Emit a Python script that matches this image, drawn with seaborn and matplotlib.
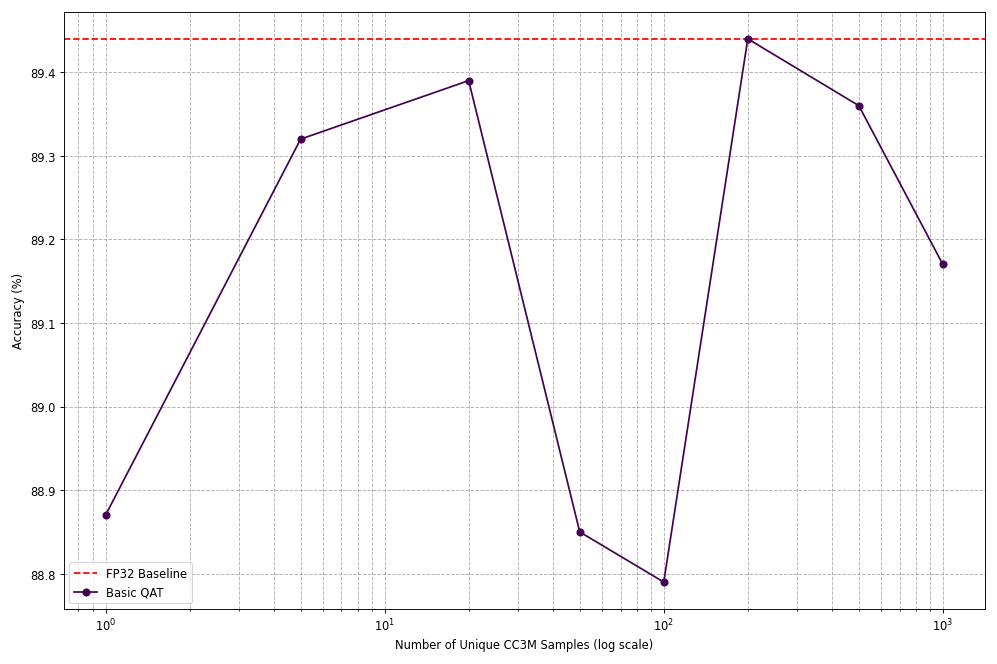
import numpy as np
import pandas as pd
import matplotlib
matplotlib.use('Agg')
import matplotlib.pyplot as plt
import seaborn as sns

samples = [1, 5, 20, 50, 100, 200, 500, 1000]
accuracy = [88.87, 89.32, 89.39, 88.85, 88.79, 89.44, 89.36, 89.17]
baseline = 89.44

df = pd.DataFrame({'samples': samples, 'accuracy': accuracy})

plt.figure(figsize=(12, 8), dpi=83.1)
ax = plt.gca()
ax.axhline(baseline, color='red', linestyle='--', linewidth=1.5, label='FP32 Baseline')
sns.lineplot(data=df, x='samples', y='accuracy', marker='o', color='#440154',
             linewidth=1.5, markersize=7, markeredgewidth=0, label='Basic QAT', ax=ax)
ax.set_xscale('log')
ax.set_xlabel('Number of Unique CC3M Samples (log scale)')
ax.set_ylabel('Accuracy (%)')
ax.grid(True, which='both', linestyle='--', color='gray', alpha=0.6)
ax.legend(loc='lower left')
plt.tight_layout()
plt.savefig('out.png', dpi=83.1)
